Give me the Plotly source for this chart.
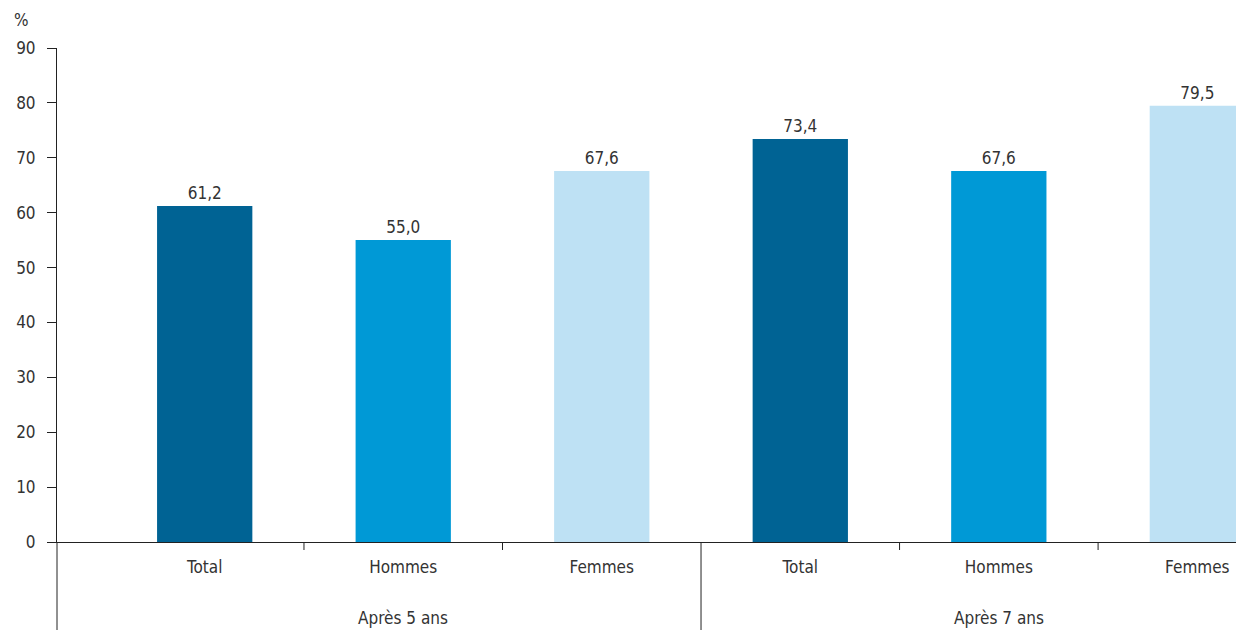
import plotly.graph_objects as go

groups = ["Après 5 ans", "Après 5 ans", "Après 5 ans", "Après 7 ans", "Après 7 ans", "Après 7 ans"]
categories = ["Total", "Hommes", "Femmes", "Total", "Hommes", "Femmes"]
values = [61.2, 55.0, 67.6, 73.4, 67.6, 79.5]
colors = ["#006394", "#0099D6", "#BEE1F4", "#006394", "#0099D6", "#BEE1F4"]
labels = [f"{v:.1f}".replace(".", ",") for v in values]

FONT = "DejaVu Sans Condensed, Roboto, sans-serif"
TXT = "#333333"
AX = "#222222"
SIZE = 17

idx = list(range(len(categories)))

fig = go.Figure(go.Bar(
    x=idx,
    y=values,
    marker=dict(color=colors, line=dict(width=0)),
    text=labels,
    textposition="outside",
    textfont=dict(family=FONT, size=SIZE, color=TXT),
    cliponaxis=False,
))

PLOT_H = 494
BOTTOM = -88 / PLOT_H
TICK = -8 / PLOT_H
GROUP_Y = -76 / PLOT_H

fig.update_layout(
    width=1244, height=630,
    margin=dict(l=49, r=8, t=40, b=96, autoexpand=False),
    paper_bgcolor="white", plot_bgcolor="white",
    bargap=0.52,
    showlegend=False,
    font=dict(family=FONT, size=SIZE, color=TXT),
)
fig.update_xaxes(
    range=[-0.744, 5.235],
    tickmode="array", tickvals=idx, ticktext=categories,
    showline=True, linecolor=AX, linewidth=1,
    ticks="",
    tickfont=dict(family=FONT, size=SIZE, color=TXT),
    ticklabelstandoff=10,
    showgrid=False, zeroline=False,
)
fig.update_yaxes(
    range=[0, 90], dtick=10,
    showline=True, linecolor=AX, linewidth=1,
    ticks="outside", ticklen=9, tickcolor=AX,
    ticklabelstandoff=8,
    showgrid=False, zeroline=False,
    tickfont=dict(family=FONT, size=SIZE, color=TXT),
)

# category boundary ticks and group dividers (axis decoration)
bounds = [i + 0.5 for i in idx[:-1]]
group_bounds = [i + 0.5 for i in idx[:-1] if groups[i] != groups[i + 1]]
for b in bounds:
    if b in group_bounds:
        continue
    fig.add_shape(type="line", xref="x", yref="paper", x0=b, x1=b, y0=0, y1=TICK,
                  line=dict(color=AX, width=1))
for b in group_bounds:
    fig.add_shape(type="line", xref="x", yref="paper", x0=b, x1=b, y0=0, y1=BOTTOM,
                  line=dict(color=AX, width=1))
fig.add_shape(type="line", xref="paper", yref="paper", x0=0, x1=0, y0=0, y1=BOTTOM,
              line=dict(color=AX, width=1))

# group labels
seen = []
for g in groups:
    if g not in seen:
        seen.append(g)
for g in seen:
    members = [i for i, gg in enumerate(groups) if gg == g]
    fig.add_annotation(
        text=g, xref="x", yref="paper", x=sum(members) / len(members), y=GROUP_Y,
        showarrow=False, xanchor="center", yanchor="middle",
        font=dict(family=FONT, size=SIZE, color=TXT),
    )

fig.add_annotation(
    text="%", xref="paper", yref="paper", x=0, y=1,
    xshift=-45, yshift=28, showarrow=False, xanchor="left", yanchor="middle",
    font=dict(family=FONT, size=SIZE, color=TXT),
)
fig.write_html("out.html")
